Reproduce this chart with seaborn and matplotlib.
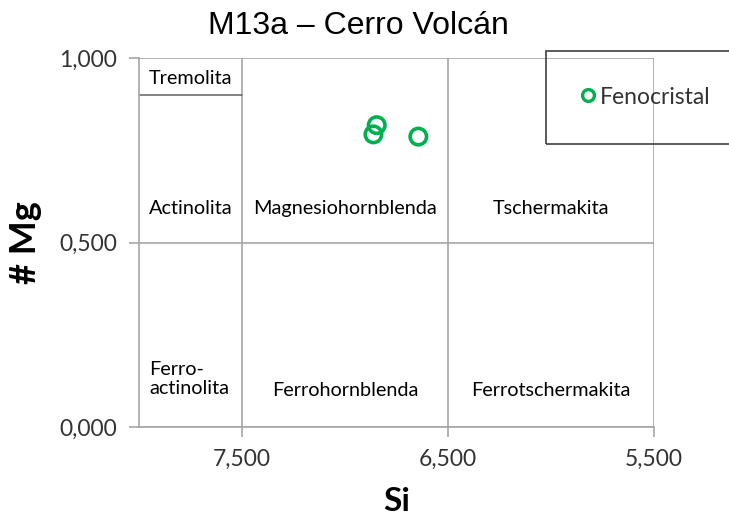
import matplotlib
matplotlib.use("Agg")
import matplotlib.pyplot as plt
import seaborn as sns
import pandas as pd
from matplotlib.patches import Rectangle
from matplotlib.ticker import FuncFormatter, FixedLocator

sns.set_theme(style="white")
plt.rcParams['font.family'] = ['Lato', 'DejaVu Sans']

# Amphibole analyses, sample M13a (Cerro Volcán)
si = [6.846, 6.862, 6.644]
mg_num = [0.818, 0.793, 0.787]
series = ["Fenocristal", "Fenocristal", "Fenocristal"]

# Leake classification field names
regions = ["Tremolita", "Actinolita", "Magnesiohornblenda", "Tschermakita",
           "Ferro-\nactinolita", "Ferrohornblenda", "Ferrotschermakita"]
region_x = [7.75, 7.75, 7.0, 6.0, 7.95, 7.0, 6.0]
region_y = [0.945, 0.593, 0.593, 0.593, 0.13, 0.10, 0.10]
region_ha = ["center", "center", "center", "center", "left", "center", "center"]

x_ticks = [7.5, 6.5, 5.5]
y_ticks = [0.0, 0.5, 1.0]

df = pd.DataFrame({"Si": si, "Mg": mg_num, "tipo": series})

grey = "#a6a6a6"
green = "#00b050"

fig = plt.figure(figsize=(7.29, 5.25), dpi=100)
ax = fig.add_axes([139 / 729, 98 / 525, (654 - 139) / 729, (427 - 58) / 525])

sns.scatterplot(data=df, x="Si", y="Mg", hue="tipo", palette=[green], ax=ax,
                s=140, facecolor="none", linewidth=2.6, edgecolor=green, zorder=5)
# hollow markers
for coll in ax.collections:
    coll.set_facecolor("none")
    coll.set_edgecolor(green)

ax.set_xlim(8.0, 5.5)
ax.set_ylim(0.0, 1.0)
ax.xaxis.set_major_locator(FixedLocator(x_ticks))
ax.yaxis.set_major_locator(FixedLocator(y_ticks))
fmt = FuncFormatter(lambda v, p: f"{v:.3f}".replace(".", ","))
ax.xaxis.set_major_formatter(fmt)
ax.yaxis.set_major_formatter(fmt)

ax.grid(True, color=grey, linewidth=1.2)
ax.set_axisbelow(True)
for side in ["top", "right"]:
    ax.spines[side].set_visible(False)
for side in ["left", "bottom"]:
    ax.spines[side].set_color(grey)
    ax.spines[side].set_linewidth(1.2)
ax.tick_params(axis="both", direction="out", length=7, width=1.2, color=grey,
               labelsize=16.5, labelcolor="#333333")
ax.tick_params(axis="x", pad=9, bottom=True)
ax.tick_params(axis="y", pad=9, left=True)

# Tremolita / Actinolita boundary
ax.plot([8.0, 7.5], [0.9, 0.9], color="#606060", linewidth=1.1, zorder=2)

for name, x, y, ha in zip(regions, region_x, region_y, region_ha):
    ax.text(x, y, name, ha=ha, va="center", fontsize=14.3, color="black",
            linespacing=1.2)

ax.set_xlabel("Si", fontsize=24, fontweight="bold", labelpad=12, color="black")
ax.set_ylabel("# Mg", fontsize=26, fontweight="bold", labelpad=12, color="black")
fig.suptitle("M13a – Cerro Volcán", x=358 / 729, y=1 - 26 / 525, va="center",
             fontsize=23, family="Liberation Sans", color="black")

# legend box
fig.add_artist(Rectangle((546 / 729, 1 - 144 / 525), 0.4, 93 / 525,
                         transform=fig.transFigure, fill=False,
                         edgecolor="#404040", linewidth=1.2))
leg = ax.legend(loc="center left", bbox_to_anchor=(578 / 729, 1 - 97 / 525),
                bbox_transform=fig.transFigure, frameon=False, title=None,
                handletextpad=0.05, borderpad=0, borderaxespad=0,
                handlelength=0.9, fontsize=16.5)
for h in leg.legend_handles:
    h.set_markerfacecolor("none")
    h.set_markeredgecolor(green)
    h.set_markeredgewidth(2.4)
    h.set_markersize(8.5)
for t in leg.get_texts():
    t.set_color("#333333")

fig.savefig("out.png", dpi=100)
